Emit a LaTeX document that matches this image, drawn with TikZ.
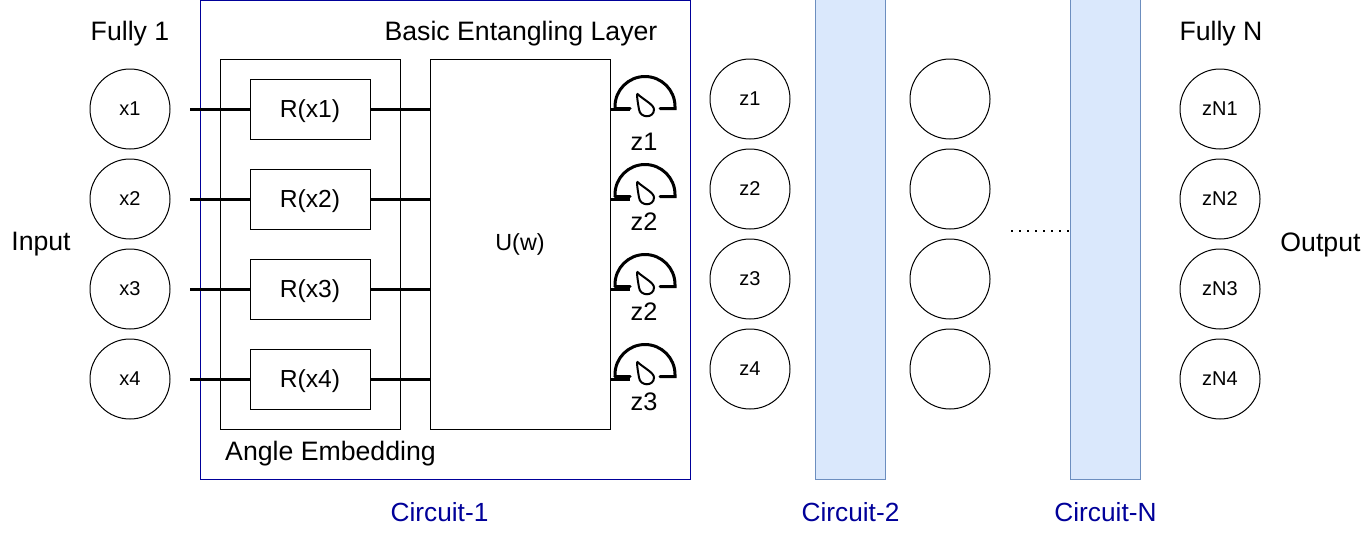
\documentclass[tikz,border=0pt]{standalone}
\usepackage{fontspec}
\setmainfont{Liberation Sans}
\definecolor{circuitblue}{HTML}{000099}
\definecolor{barfill}{HTML}{DAE8FC}
\definecolor{bardraw}{HTML}{6C8EBF}
\tikzset{
    neuron/.style={circle, draw, line width=0.75pt, minimum size=60pt, inner sep=0pt, font=\fontsize{15}{17}\selectfont},
    gate/.style={rectangle, draw, line width=0.75pt, minimum width=90pt, minimum height=45pt, inner sep=0pt, text height=16.5pt, text depth=4pt, font=\fontsize{18.5}{22}\selectfont},
    bar/.style={rectangle, draw=bardraw, fill=barfill, line width=0.75pt, minimum width=52.5pt, minimum height=360pt, inner sep=0pt},
    label/.style={inner sep=0pt, font=\fontsize{20}{24}\selectfont},
    zlabel/.style={inner sep=0pt, font=\fontsize{19}{23}\selectfont},
    circuit/.style={inner sep=0pt, text=circuitblue, font=\fontsize{19.7}{24}\selectfont},
    wire/.style={line width=2.25pt},
    meterline/.style={line width=2.25pt, line cap=round},
    pics/meter/.style={code={
        \draw[meterline] (-30,0) -- (-15,0);
        \draw[meterline] (-30,0) -- (-30,-2) arc[start angle=180, end angle=360, radius=30] -- (30,0) -- (15,0);
        \draw[line width=1.5pt] (-8,-15) .. controls (-2,-9) and (9,-4) .. (9,1) .. controls (9,10) and (-5,10) .. (-6,1) .. controls (-7,-5) and (-8,-10) .. (-8,-15);
    }}
}
\begin{document}
\begin{tikzpicture}[x=0.75pt, y=-0.75pt]
        \useasboundingbox (0,0) rectangle (1370,540);
        
        % Riquadri esterni
        \node[rectangle, draw=circuitblue, line width=0.75pt, minimum width=367.5pt, minimum height=359.25pt, inner sep=0pt] (circuit1) at (445,239.5) {};
        \node[rectangle, draw, line width=0.75pt, minimum width=135pt, minimum height=277.5pt, inner sep=0pt] (angle) at (310,244) {};
        \node[rectangle, draw, line width=0.75pt, minimum width=135pt, minimum height=277.5pt, inner sep=0pt, font=\fontsize{17.5}{21}\selectfont] (u) at (520,244) {U(w)};
        \node[bar] (bar2) at (850,239.5) {};
        \node[bar] (barN) at (1105,239.5) {};
        
        % Ingressi e gate
        \foreach \i/\y in {1/109, 2/199, 3/289, 4/379} {
            \node[neuron] (x\i) at (130,\y) {x\i};
            \node[gate] (r\i) at (310,\y) {R(x\i)};
            \node[neuron] (zN\i) at (1220,\y) {zN\i};
            \coordinate (in\i) at (190,\y);
            \draw[wire] (in\i) -- (r\i);
            \draw[wire] (r\i) -- (r\i -| u.west);
            % filo verso la misura
            \coordinate (out\i) at (630,\y);
            \draw[wire] (out\i -| u.east) -- (out\i);
        }
        
        % Strati intermedi
        \foreach \i/\y in {1/99, 2/189, 3/279, 4/369} {
            \node[neuron] (z\i) at (750,\y) {z\i};
            \node[neuron] (h\i) at (950,\y) {};
        }
        
        % Misure
        \pic at (645,108.5) {meter};
        \pic at (645,196.5) {meter};
        \pic at (645,286.5) {meter};
        \pic at (645,376.5) {meter};
        \node[zlabel] (m1) at (644,142) {z1};
        \node[zlabel] (m2) at (644,222) {z2};
        \node[zlabel] (m3) at (644,312) {z2};
        \node[zlabel] (m4) at (644,402) {z3};
        
        % Puntini
        \coordinate (dots) at (1011,231);
        \draw[line width=1.2pt, dash pattern=on 1.2pt off 4.8pt] (dots) -- (dots -| barN.west);
        
        % Etichette
        \node[label] (fully1) at (130,34) {Fully 1};
        \node[label] (fullyN) at (1221,34) {Fully N};
        \node[label] (basic) at (521,34) {Basic Entangling Layer};
        \node[label] (embed) at (330.5,454) {Angle Embedding};
        \node[label] (input) at (41,244.5) {Input};
        \node[label] (output) at (1320.5,244.5) {Output};
        \node[circuit] (c1) at (439.5,512) {Circuit-1};
        \node[circuit] (c2) at (850.5,512) {Circuit-2};
        \node[circuit] (cN) at (1105.5,512) {Circuit-N};
    \end{tikzpicture}
\end{document}
